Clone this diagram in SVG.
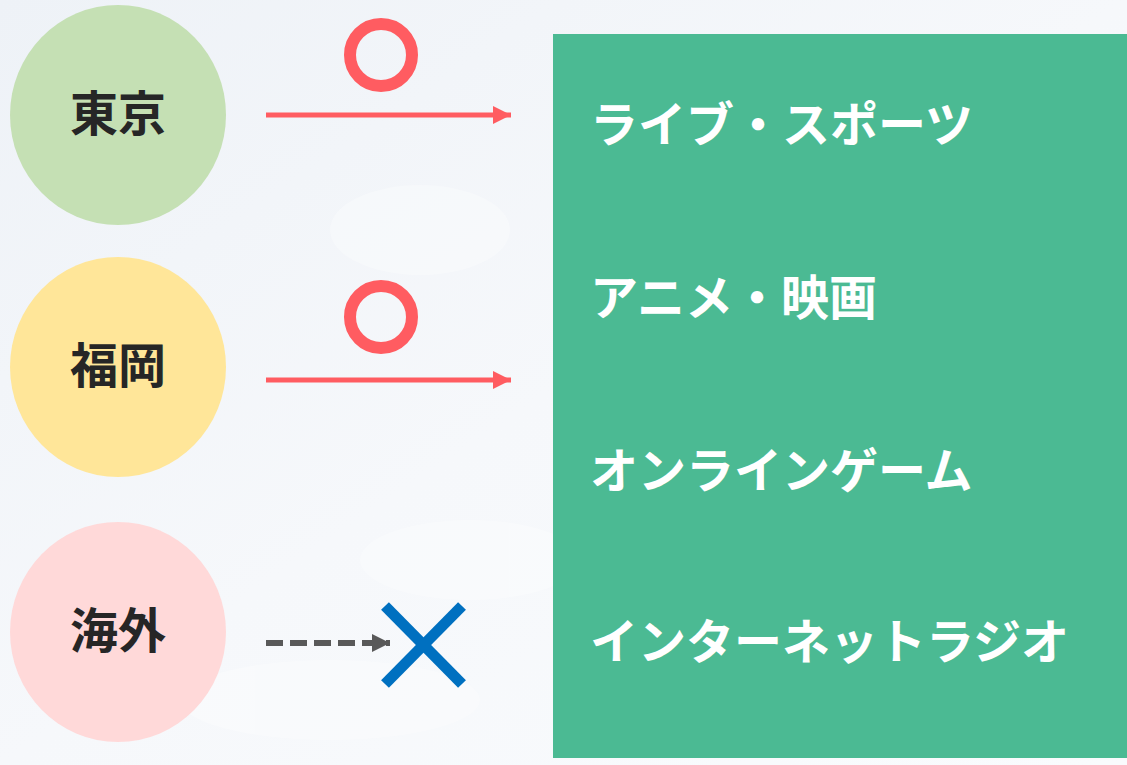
<svg xmlns="http://www.w3.org/2000/svg" width="1127" height="765" viewBox="0 0 1127 765">
<defs>
<linearGradient id="bg" x1="0" y1="0" x2="1" y2="1">
<stop offset="0" stop-color="#EEF2F7"/>
<stop offset="0.5" stop-color="#F6F8FB"/>
<stop offset="1" stop-color="#F9FBFD"/>
</linearGradient>
<marker id="ahRed" viewBox="0 0 18 18" refX="18" refY="9" markerWidth="18" markerHeight="18" markerUnits="userSpaceOnUse" orient="auto">
<path d="M0,0 L18,9 L0,18 Z" fill="#FF5C61"/>
</marker>
<marker id="ahGray" viewBox="0 0 18 18" refX="18" refY="9" markerWidth="18" markerHeight="18" markerUnits="userSpaceOnUse" orient="auto">
<path d="M0,0 L18,9 L0,18 Z" fill="#595959"/>
</marker>
</defs>
<style>
.city{font-family:"Noto Sans CJK JP","Noto Sans CJK SC",sans-serif;font-weight:bold;font-size:48px;fill:#262626;text-anchor:middle}
.item{font-family:"Noto Sans CJK JP","Noto Sans CJK SC",sans-serif;font-weight:bold;font-size:48px;fill:#FFFFFF}
.ok{fill:none;stroke:#FF5C61;stroke-width:12}
.redline{stroke:#FF5C61;stroke-width:5;fill:none}
.grayline{stroke:#595959;stroke-width:6;fill:none;stroke-dasharray:17 7}
.ng{stroke:#0070C0;stroke-width:11;fill:none}
</style>
<rect x="0" y="0" width="1127" height="765" fill="url(#bg)"/>
<g opacity="0.3" fill="#FFFFFF">
<ellipse cx="420" cy="230" rx="90" ry="45"/>
<ellipse cx="470" cy="560" rx="110" ry="40"/>
<ellipse cx="330" cy="700" rx="150" ry="40"/>
</g>
<g id="panel">
<rect x="553" y="34" width="574" height="724" fill="#4BBA93"/>
<text class="item" x="590" y="142">ライブ・スポーツ</text>
<text class="item" x="590" y="315">アニメ・映画</text>
<text class="item" x="590" y="488">オンラインゲーム</text>
<text class="item" x="590" y="659">インターネットラジオ</text>
</g>
<g id="node-tokyo">
<ellipse cx="118" cy="115" rx="108" ry="110" fill="#C5E0B4"/>
<text class="city" x="118" y="131">東京</text>
</g>
<g id="node-fukuoka">
<ellipse cx="118" cy="367" rx="108" ry="110" fill="#FFE699"/>
<text class="city" x="118" y="383">福岡</text>
</g>
<g id="node-kaigai">
<ellipse cx="118" cy="632" rx="108" ry="110" fill="#FFD9D9"/>
<text class="city" x="118" y="648">海外</text>
</g>
<g id="connectors">
<line class="redline" x1="266" y1="115" x2="511" y2="115" marker-end="url(#ahRed)"/>
<line class="redline" x1="266" y1="380" x2="511" y2="380" marker-end="url(#ahRed)"/>
<line class="grayline" x1="266" y1="643" x2="390" y2="643" marker-end="url(#ahGray)"/>
</g>
<g id="marks">
<circle class="ok" cx="381" cy="55" r="31"/>
<circle class="ok" cx="381" cy="317" r="31"/>
<line class="ng" x1="385" y1="606" x2="462" y2="684"/>
<line class="ng" x1="462" y1="606" x2="385" y2="684"/>
</g>
</svg>
